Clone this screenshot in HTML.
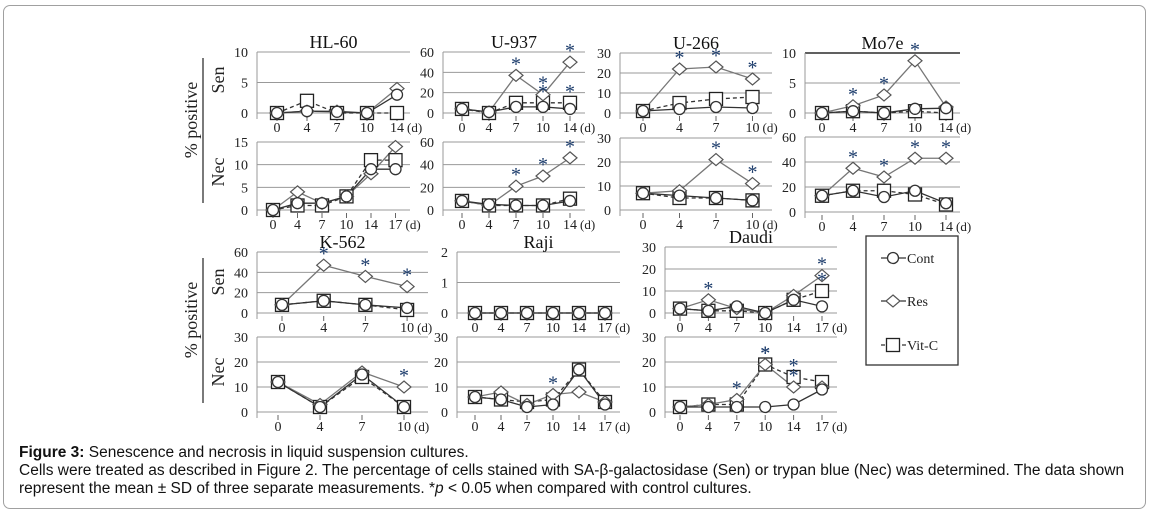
<!DOCTYPE html>
<html><head><meta charset="utf-8"><style>
body{margin:0;background:#fff;width:1152px;height:519px;overflow:hidden;position:relative}
#frame{position:absolute;left:3px;top:5px;width:1143px;height:504px;border:1px solid #a0a0a0;border-radius:7px;box-sizing:border-box}
#cap{position:absolute;left:19px;top:444px;font-family:"Liberation Sans",sans-serif;font-size:15.5px;line-height:18px;color:#111;white-space:nowrap}
svg{position:absolute;left:0;top:0}
</style></head><body>
<div id="frame"></div>
<svg id="chart" width="1152" height="519"></svg>
<div id="cap"><b>Figure 3:</b> Senescence and necrosis in liquid suspension cultures.<br>Cells were treated as described in Figure 2. The percentage of cells stained with SA-β-galactosidase (Sen) or trypan blue (Nec) was determined. The data shown<br>represent the mean ± SD of three separate measurements. *<i>p</i> &lt; 0.05 when compared with control cultures.</div>
<script>
const panelNames=["hl60-sen","hl60-nec","u937-sen","u937-nec","u266-sen","u266-nec","mo7e-sen","mo7e-nec","k562-sen","k562-nec","raji-sen","raji-nec","daudi-sen","daudi-nec"];
const titles=["HL-60","","U-937","","U-266","","Mo7e","","K-562","","Raji","","Daudi",""];
const categories=[["0","4","7","10","14"],["0","4","7","10","14","17"],["0","4","7","10","14"],["0","4","7","10","14"],["0","4","7","10"],["0","4","7","10"],["0","4","7","10","14"],["0","4","7","10","14"],["0","4","7","10"],["0","4","7","10"],["0","4","7","10","14","17"],["0","4","7","10","14","17"],["0","4","7","10","14","17"],["0","4","7","10","14","17"]];
const yTicks=[[0,5,10],[0,5,10,15],[0,20,40,60],[0,20,40,60],[0,10,20,30],[0,10,20,30],[0,5,10],[0,20,40,60],[0,20,40,60],[0,10,20,30],[0,1,2],[0,10,20,30],[0,10,20,30],[0,10,20,30]];
const contValues=[[0,0.3,0.2,0,3],[0,1.5,1.5,3,9,9],[4,1,6,6,4],[8,5,4,4,8],[1,2,3,2.5],[7,6,5,4],[0,0.3,0,0.7,0.8],[13,17,12,17,7],[8,12,8,5],[12,2,15,2],[0,0,0,0,0,0],[6,5,2,3,17,3],[2,1,3,0,6,3],[2,2,2,2,3,9]];
const resValues=[[0,0.3,0.3,0,4],[0,4,1.5,3,8,14],[4,1,37,18,50],[8,4,21,30,46],[1,22,23,17],[7,8,21,11],[0,1.2,3,8.7,1],[13,35,28,43,43],[8,47,36,26],[12,3,16,10],[0,0,0,0,0,0],[6,8,3,7,8,4],[2,6,2,0,8,17],[2,3,5,19,10,10]];
const vitValues=[[0,2,0,0,0],[0,1,1,3,11,11],[4,0,10,10,10],[8,4,4,4,10],[1,5,7,8],[7,5,5,4],[0,0.3,0,0.3,0],[13,17,17,14,6],[8,12,8,3],[12,2,14,2],[0,0,0,0,0,0],[6,5,4,5,17,4],[2,1,1,0,6,10],[2,3,3,19,14,12]];
const resStars=[[],[],[2,3,4],[2,3,4],[1,2,3],[2,3],[1,2,3],[1,2,3,4],[1,2,3],[3],[],[3],[1,5],[2,3,4]];
const vitStars=[[],[],[3,4],[],[],[],[],[],[],[],[],[],[5],[3,4]];
// layout: [gridLeft, gridRight, yTopPx, yZeroPx, firstCatPx, catStep]
const layout=[[257,410,52,113,277,30],[257,410,142,210,273,24.5],[443,585,52,113,462,27],[443,585,142,210,462,27],[620,772,53,113,643,36.5],[620,772,138,210,643,36.5],[805,960,53,113,822,31],[805,960,137,212,822,31],[257,428,252,313,282,41.7],[257,428,337,412,278,42],[457,620,252,313,475,26],[457,620,337,412,475,26],[665,837,247,313,680,28.4],[665,837,337,412,680,28.4]];
const NS="http://www.w3.org/2000/svg";
const svg=document.getElementById('chart');
function mk(tag,attrs,parent){const e=document.createElementNS(NS,tag);for(const k in attrs)e.setAttribute(k,attrs[k]);(parent||svg).appendChild(e);return e;}
const serif='"Liberation Serif",serif';
function marker(g,type,x,y){
  if(type==='c')return mk('circle',{cx:x,cy:y,r:5.5,fill:'#fff',stroke:'#333','stroke-width':1.3},g);
  if(type==='d')return mk('polygon',{points:`${x},${y-6} ${x+7},${y} ${x},${y+6} ${x-7},${y}`,fill:'#fff',stroke:'#555','stroke-width':1.2},g);
  return mk('rect',{x:x-6.5,y:y-6.5,width:13,height:13,fill:'#fff',stroke:'#222','stroke-width':1.3},g);
}
panelNames.forEach((nm,i)=>{
  const [gl,gr,yt,y0,fx,st]=layout[i];
  const ticks=yTicks[i];const ymax=ticks[ticks.length-1];
  const ys=v=>y0-(v/ymax)*(y0-yt);
  const xs=k=>fx+k*st;
  const g=mk('g',{});
  
  
  ticks.forEach(t=>{
    const gy=ys(t);
    const ln=mk('line',{x1:gl,x2:gr,y1:gy,y2:gy,stroke:(i===6&&t===ymax)?'#000':'#999','stroke-width':(i===6&&t===ymax)?1.3:1},g);
    
    
    const tx=mk('text',{x:gl-9,y:gy+5,'text-anchor':'end','font-family':serif,'font-size':14,fill:'#222'},g);
    tx.textContent=t;
    
    
  });
  const ax=mk('line',{x1:gl,x2:gl,y1:yt,y2:y0+6,stroke:'#999'},g);
  
  
  const cats=categories[i];
  cats.forEach((c,k)=>{
    mk('line',{x1:xs(k),x2:xs(k),y1:y0+3,y2:y0+8,stroke:'#666'},g);
    const tx=mk('text',{x:xs(k),y:y0+19,'text-anchor':'middle','font-family':serif,'font-size':14,fill:'#222'},g);
    tx.textContent=c;
    
    
  });
  const dl=mk('text',{x:xs(cats.length-1)+10,y:y0+19,'font-family':serif,'font-size':13,fill:'#222'},g);
  dl.textContent='(d)';
  
  
  if(titles[i]){
    const tt=mk('text',{x:(gl+gr)/2,y:yt-4,'text-anchor':'middle','font-family':serif,'font-size':18,fill:'#111'},g);
    tt.textContent=titles[i];
    
    
  }
  const series=[[vitValues[i],'s','#333','4,3'],[resValues[i],'d','#777',''],[contValues[i],'c','#333','']];
  series.forEach(([vals,type,col,dash])=>{
    const pts=vals.map((v,k)=>xs(k)+','+ys(v)).join(' ');
    const pl=mk('polyline',{points:pts,fill:'none',stroke:col,'stroke-width':1.3,'stroke-dasharray':dash},g);
    
    
  });
  series.forEach(([vals,type])=>{
    vals.forEach((v,k)=>{
      const m=marker(g,type,xs(k),ys(v));
      
      
    });
  });
  [[resStars[i],resValues[i]],[vitStars[i],vitValues[i]]].forEach(([arr,vals])=>{
    arr.forEach(k=>{
      const s=mk('text',{x:xs(k),y:ys(vals[k])-5,'text-anchor':'middle','font-family':serif,'font-size':20,fill:'#1a3a6a'},g);
      s.textContent='*';
      
      
    });
  });
});
// side labels
[[120,80,172],[320,282,372]].forEach(([pc,sy,ny])=>{
  const p=mk('text',{x:0,y:0,transform:`translate(197,${pc}) rotate(-90)`,'text-anchor':'middle','font-family':serif,'font-size':18,fill:'#222'});
  p.textContent='% positive';
  
  
  const s=mk('text',{x:0,y:0,transform:`translate(224,${sy}) rotate(-90)`,'text-anchor':'middle','font-family':serif,'font-size':18,fill:'#222'});
  s.textContent='Sen';
  
  
  const n=mk('text',{x:0,y:0,transform:`translate(224,${ny}) rotate(-90)`,'text-anchor':'middle','font-family':serif,'font-size':18,fill:'#222'});
  n.textContent='Nec';
  
  
  mk('line',{x1:203,x2:203,y1:pc-62,y2:pc+83,stroke:'#222','stroke-width':1.2});
});
// legend
const lg=mk('g',{});


mk('rect',{x:866,y:236,width:92,height:129,fill:'#fff',stroke:'#333','stroke-width':1.3},lg);
[['c','Cont',258,''],['d','Res',301,''],['s','Vit-C',345,'4,3']].forEach(([t,l,y,d])=>{
  mk('line',{x1:881,x2:906,y1:y,y2:y,stroke:'#333','stroke-dasharray':d,'stroke-width':1.2},lg);
  const m=marker(lg,t,893,y);
  
  
  const tx=mk('text',{x:907,y:y+5,'font-family':serif,'font-size':14,fill:'#222'},lg);
  tx.textContent=l;
  
  
});
</script>
</body></html>
